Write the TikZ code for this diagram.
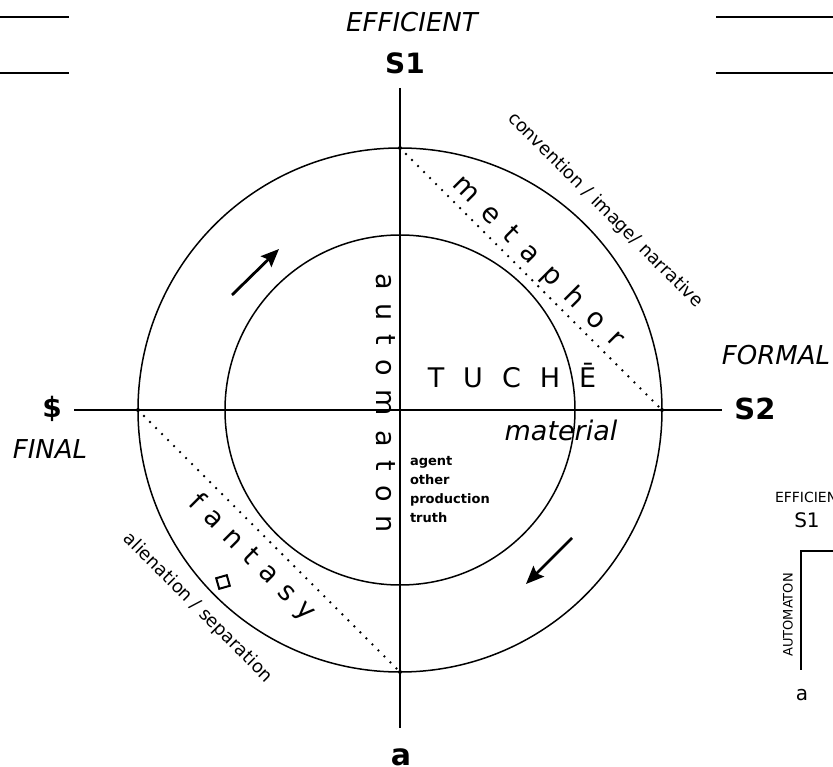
\documentclass[tikz,border=0pt]{standalone}
\usepackage{fontspec}
\setmainfont{DejaVu Sans}
\usetikzlibrary{arrows.meta}
\newcommand\fsz[1]{\fontsize{#1}{#1}\selectfont}
\newcommand\lk{\kern14pt}
\newcommand\fk{\kern11pt}
\newcommand\tk{\kern19pt}
\begin{document}
\begin{tikzpicture}[x=1pt,y=-1pt,line width=1.5pt,
  lbl/.style={inner sep=0pt,outer sep=0pt},
  ring/.style={circle,draw,inner sep=0pt,outer sep=0pt},
  dotline/.style={line width=2.6pt,line cap=round,dash pattern=on 0pt off 8.5pt},
  endpt/.style={radius=2pt},
  arr/.style={line width=2.8pt,-{Stealth[length=18pt,width=15pt,inset=3pt]}},
  big/.style={lbl,font=\fsz{28}\bfseries},
  cause/.style={lbl,font=\fsz{26}\itshape},
  spaced/.style={lbl,font=\fsz{27}},
  side/.style={lbl,font=\fsz{18},rotate=-45},
  small/.style={lbl,font=\fsz{13}\bfseries,anchor=base west}]
\useasboundingbox (0,0) rectangle (833,767);
\fill[white] (0,0) rectangle (833,767);
\clip (0,0) rectangle (833,767);
% corner lines
\coordinate (tl1a) at (0,17); \coordinate (tl1b) at (69,17);
\coordinate (tl2a) at (0,73); \coordinate (tl2b) at (69,73);
\coordinate (tr1a) at (716,17); \coordinate (tr1b) at (833,17);
\coordinate (tr2a) at (716,73); \coordinate (tr2b) at (833,73);
\draw (tl1a) -- (tl1b); \draw (tl2a) -- (tl2b);
\draw (tr1a) -- (tr1b); \draw (tr2a) -- (tr2b);
% circles
\node[ring,minimum size=524pt] (outer) at (400,410) {};
\node[ring,minimum size=350pt] (inner) at (400,410) {};
% axes
\coordinate (vt) at (400,88); \coordinate (vb) at (400,728);
\coordinate (hl) at (74,410); \coordinate (hr) at (722,410);
\draw (vt) -- (vb);
\draw (hl) -- (hr);
% dotted chords
\coordinate (pN) at (400,148); \coordinate (pE) at (662,410);
\coordinate (pW) at (138,410); \coordinate (pS) at (400,672);
\draw[dotline] (pN) -- (pE);
\draw[dotline] (pW) -- (pS);
\foreach \p in {pN,pE,pW,pS} \fill (\p) circle[endpt];
% labels of axes
\node[cause] (eff) at (412,22) {EFFICIENT};
\node[big] (s1) at (405,63) {S1};
\node[big] (dollar) at (52,409) {\$};
\node[cause] (final) at (50,449) {FINAL};
\node[cause] (formal) at (776,355) {FORMAL};
\node[big,font=\fsz{29}\bfseries] (s2) at (755,409) {S2};
\node[big,font=\fsz{30}\bfseries,anchor=base] (aa) at (401,765) {a};
% inner texts
\node[spaced,anchor=base] (tuche) at (512,388) {T\tk U\tk C\tk H\tk Ē};
\node[lbl,font=\fsz{27}\itshape,anchor=base] (material) at (561,440) {material};
\node[spaced,rotate=-90] (automaton) at (386,403) {a\lk u\lk t\lk o\lk m\lk a\lk t\lk o\lk n};
\node[spaced,rotate=-45] (metaphor) at (538,262) {m\lk e\lk t\lk a\lk p\lk h\lk o\lk r};
\node[spaced,rotate=-45] (fantasy) at (252,558) {f\fk a\fk n\fk t\fk a\fk s\fk y};
\node[draw,line width=2pt,minimum size=11pt,inner sep=0pt,rotate=16] (lozenge) at (223,582) {};
\node[small] (agent) at (410,465) {agent};
\node[small] (other) at (410,484) {other};
\node[small] (production) at (410,503) {production};
\node[small] (truth) at (410,522) {truth};
\node[side] (convention) at (605,210) {convention / image/ narrative};
\node[side] (alienation) at (198,608) {alienation / separation};
% arrows
\coordinate (a1t) at (232,295); \coordinate (a1h) at (279,249);
\coordinate (a2t) at (572,538); \coordinate (a2h) at (526,584);
\draw[arr] (a1t) -- (a1h);
\draw[arr] (a2t) -- (a2h);
% partial second diagram
\node[lbl,font=\fsz{14},anchor=west] (eff2) at (775,497) {EFFICIENT};
\node[lbl,font=\fsz{20}] (s1b) at (807,520) {S1};
\coordinate (bxr) at (840,551); \coordinate (bxc) at (801,551); \coordinate (bxb) at (801,670);
\draw (bxr) -- (bxc) -- (bxb);
\node[lbl,font=\fsz{13},rotate=90] (auto2) at (788,615) {AUTOMATON};
\node[lbl,font=\fsz{20}] (a2) at (802,695) {a};
\end{tikzpicture}
\end{document}
